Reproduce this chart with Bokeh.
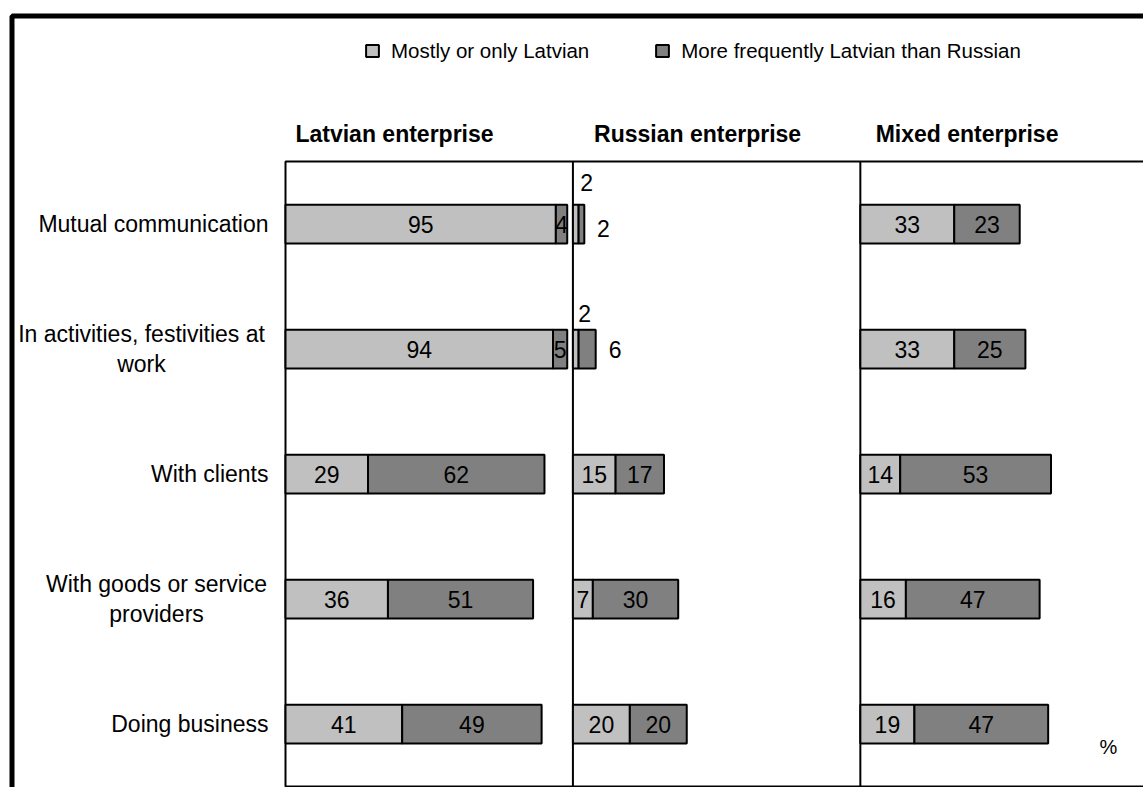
from bokeh.plotting import figure
from bokeh.models import (Range1d, Label, BoxAnnotation, Legend, LegendItem,
                          ColumnDataSource)
from bokeh.core.properties import value
from bokeh.embed import file_html
from bokeh.resources import INLINE

# ---------------- data ----------------
categories = ["Mutual communication", "In activities, festivities at work",
              "With clients", "With goods or service providers", "Doing business"]
tick_labels = ["Mutual communication", "In activities, festivities at\nwork",
               "With clients", "With goods or service\nproviders", "Doing business"]
panels = ["Latvian enterprise", "Russian enterprise", "Mixed enterprise"]
series = ["Mostly or only Latvian", "More frequently Latvian than Russian"]

latvian_mostly = [95, 94, 29, 36, 41]
latvian_more = [4, 5, 62, 51, 49]
russian_mostly = [2, 2, 15, 7, 20]
russian_more = [2, 6, 17, 30, 20]
mixed_mostly = [33, 33, 14, 16, 19]
mixed_more = [23, 25, 53, 47, 47]
unit_label = "%"

# ---------------- layout / style constants ----------------
W, H = 1143, 787
FONT = "Liberation Sans"
LIGHT = "#C0C0C0"
DARK = "#808080"
PANEL_WIDTH = 101
X_MAX = 301.5                 # data value at the right edge of the picture
AREA_LEFT_PX = 285            # left edge of the plot area (pixels)
AREA_TOP_PX = 161
AREA_BOTTOM_PX = 786
PX_PER_UNIT = (W - AREA_LEFT_PX) / X_MAX
ROW_PX = (AREA_BOTTOM_PX - AREA_TOP_PX) / len(categories)
BAR_HEIGHT = 0.31
TITLE_X = [38.3, 144.8, 239.5]
TITLE_Y_PX = 133
# (align, x offset in px) of category labels relative to the plot area's left edge
CAT_LABEL_POS = [("right", -17), ("center", -144), ("right", -17),
                 ("center", -129), ("right", -17)]
# pixel offsets for labels of very small segments: (panel, series, row) -> (dx, dy)
LABEL_OFFSETS = {
    (1, 0, 0): (11, -42), (1, 1, 0): (22, 4),
    (1, 0, 1): (9, -36), (1, 1, 1): (28, 0),
}

n = len(categories)
row_y = [n - 0.5 - i for i in range(n)]     # row centres, top row first

mostly_all = [latvian_mostly, russian_mostly, mixed_mostly]
more_all = [latvian_more, russian_more, mixed_more]


def build(series_idx):
    d = dict(y=[], left=[], right=[], label=[], lx=[], dx=[], dy=[])
    for k in range(len(panels)):
        off = k * PANEL_WIDTH
        for i in range(n):
            m = mostly_all[k][i]
            f = more_all[k][i]
            if series_idx == 0:
                left, right = off, off + m
            else:
                left, right = off + m, off + m + f
            dx, dy = LABEL_OFFSETS.get((k, series_idx, i), (0, 0))
            d["y"].append(row_y[i])
            d["left"].append(left)
            d["right"].append(right)
            d["label"].append(str(right - left))
            d["lx"].append((left + right) / 2)
            d["dx"].append(dx)
            d["dy"].append(dy)
    return ColumnDataSource(d)


src_mostly = build(0)
src_more = build(1)

x_start = -AREA_LEFT_PX / PX_PER_UNIT
y_top = n + AREA_TOP_PX / ROW_PX
y_bottom = -(H - AREA_BOTTOM_PX) / ROW_PX

p = figure(width=W, height=H, output_backend="svg", toolbar_location=None,
           x_range=Range1d(x_start, X_MAX), y_range=Range1d(y_bottom, y_top),
           x_axis_location=None, y_axis_location=None,
           min_border=0, min_border_left=0, min_border_right=0,
           min_border_top=0, min_border_bottom=0)
p.outline_line_color = None
p.xgrid.visible = False
p.ygrid.visible = False
p.background_fill_color = "white"
p.border_fill_color = "white"

# outer frame of the whole chart (cut by the picture's right and bottom edges)
p.add_layout(BoxAnnotation(left=11.5, right=3000, top=H - 15.5, bottom=-3000,
                           left_units="screen", right_units="screen",
                           top_units="screen", bottom_units="screen",
                           fill_color=None, fill_alpha=0,
                           line_color="black", line_alpha=1.0, line_width=5,
                           level="underlay"))

# plot area box
p.add_layout(BoxAnnotation(left=0, right=X_MAX + 100, bottom=0, top=n,
                           fill_color=None, fill_alpha=0,
                           line_color="black", line_alpha=1.0, line_width=2,
                           level="underlay"))
# panel dividers
div_x = [k * PANEL_WIDTH for k in range(1, len(panels))]
p.segment(x0=div_x, x1=div_x, y0=[0] * len(div_x), y1=[n] * len(div_x),
          line_color="black", line_width=2)

r1 = p.hbar(y="y", left="left", right="right", height=BAR_HEIGHT, source=src_mostly,
            fill_color=LIGHT, line_color="black", line_width=2)
r2 = p.hbar(y="y", left="left", right="right", height=BAR_HEIGHT, source=src_more,
            fill_color=DARK, line_color="black", line_width=2)

for src in (src_mostly, src_more):
    p.text(x="lx", y="y", text="label", x_offset="dx", y_offset="dy", source=src,
           text_font=value(FONT), text_font_size="23px", text_color="black",
           text_align="center", text_baseline="middle")

# category labels
for i, lab in enumerate(tick_labels):
    align, dx = CAT_LABEL_POS[i]
    p.text(x=[0], y=[row_y[i]], text=[lab], x_offset=dx,
           text_font=value(FONT), text_font_size="23px", text_color="black",
           text_align=align, text_baseline="middle", text_line_height=1.15)

# panel titles
title_y = n + (AREA_TOP_PX - TITLE_Y_PX) / ROW_PX
p.text(x=TITLE_X, y=[title_y] * len(panels), text=panels,
       text_font=value(FONT), text_font_size="23px", text_font_style="bold",
       text_color="black", text_align="center", text_baseline="middle")

# unit label
p.add_layout(Label(x=289.2, y=H - 746.5, x_units="data", y_units="screen",
                   text=unit_label, text_font=FONT, text_font_size="20px",
                   text_color="black", text_align="center", text_baseline="middle"))

# legend
legend = Legend(items=[LegendItem(label=series[0], renderers=[r1]),
                       LegendItem(label=series[1], renderers=[r2])],
                orientation="horizontal", location=(364, H - 62.5),
                border_line_color=None, background_fill_alpha=0,
                padding=0, margin=0, spacing=65, label_standoff=11,
                glyph_width=16, glyph_height=15,
                label_text_font=FONT, label_text_font_size="20.5px",
                label_text_color="black")
p.add_layout(legend, "center")

open("out.html", "w").write(file_html(p, INLINE))
